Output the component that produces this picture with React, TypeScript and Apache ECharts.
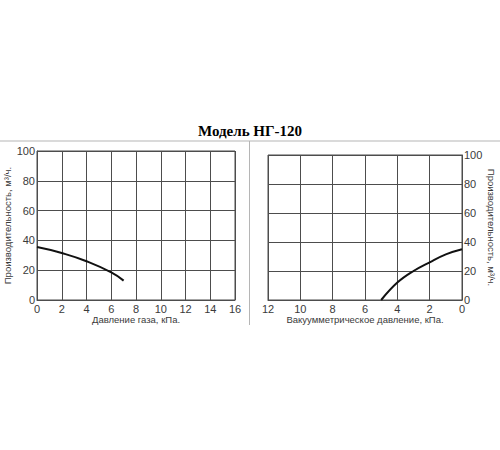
import React, { useEffect, useRef } from 'react';
import * as echarts from 'echarts';

const TITLE = 'Модель НГ-120';
const Y_NAME = 'Производительность, м³/ч.';
const LEFT_X_NAME = 'Давление газа, кПа.';
const RIGHT_X_NAME = 'Вакуумметрическое давление, кПа.';

// pressure (kPa) -> capacity (m3/h)
const gasPressure = [0, 2, 4, 6, 7];
const gasCapacity = [35.5, 31.5, 26, 18.5, 13];

const vacPressure = [0, 1, 2, 3, 4, 5];
const vacCapacity = [35, 31.5, 26, 20, 12, 0];

const GRID_COLOR = '#4d4d4d';
const TEXT_COLOR = '#3a3a3a';
const FONT = "'Liberation Sans', Arial, sans-serif";

function pairs(xs: number[], ys: number[]): number[][] {
  return xs.map((x, i) => [x, ys[i]]);
}

export default function App() {
  const elRef = useRef<HTMLDivElement | null>(null);

  useEffect(() => {
    if (!elRef.current) return;
    const chart = echarts.init(elRef.current, undefined, { renderer: 'svg' });

    const label = { color: TEXT_COLOR, fontSize: 11, fontFamily: FONT };
    const split = { show: true, lineStyle: { color: GRID_COLOR, width: 1 } };
    const line = { show: true, lineStyle: { color: GRID_COLOR, width: 1 } };
    const xNameStyle = { color: TEXT_COLOR, fontSize: 9.5, fontFamily: FONT };
    const yNameStyle = { color: TEXT_COLOR, fontSize: 9.5, fontFamily: FONT };

    chart.setOption({
      animation: false,
      backgroundColor: '#ffffff',
      graphic: [
        {
          type: 'text',
          left: 'center',
          top: 123,
          style: {
            text: TITLE,
            fontFamily: "'Liberation Serif', 'Times New Roman', serif",
            fontWeight: 'bold',
            fontSize: 15,
            fill: '#000',
          },
        },
        {
          type: 'line',
          shape: { x1: 0, y1: 141, x2: 500, y2: 141 },
          style: { stroke: '#b5b5b5', lineWidth: 1 },
        },
        {
          type: 'line',
          shape: { x1: 249.5, y1: 141, x2: 249.5, y2: 325 },
          style: { stroke: '#b5b5b5', lineWidth: 1 },
        },
      ],
      grid: [
        { left: 37, top: 151, width: 198, height: 149, show: true, borderColor: GRID_COLOR, borderWidth: 1 },
        { left: 268, top: 155, width: 194, height: 145, show: true, borderColor: GRID_COLOR, borderWidth: 1 },
      ],
      xAxis: [
        {
          type: 'value',
          gridIndex: 0,
          min: 0,
          max: 16,
          interval: 2,
          axisLine: line,
          axisTick: { show: false },
          splitLine: split,
          axisLabel: { ...label, margin: 3 },
          name: LEFT_X_NAME,
          nameLocation: 'middle',
          nameGap: 12,
          nameTextStyle: xNameStyle,
        },
        {
          type: 'value',
          gridIndex: 1,
          min: 0,
          max: 12,
          interval: 2,
          inverse: true,
          axisLine: line,
          axisTick: { show: false },
          splitLine: split,
          axisLabel: { ...label, margin: 3 },
          name: RIGHT_X_NAME,
          nameLocation: 'middle',
          nameGap: 12,
          nameTextStyle: xNameStyle,
        },
      ],
      yAxis: [
        {
          type: 'value',
          gridIndex: 0,
          min: 0,
          max: 100,
          interval: 20,
          axisLine: line,
          axisTick: { show: false },
          splitLine: split,
          axisLabel: { ...label, margin: 2 },
          name: Y_NAME,
          nameLocation: 'middle',
          nameGap: 21,
          nameRotate: 90,
          nameTextStyle: yNameStyle,
        },
        {
          type: 'value',
          gridIndex: 1,
          position: 'right',
          min: 0,
          max: 100,
          interval: 20,
          axisLine: line,
          axisTick: { show: false },
          splitLine: split,
          axisLabel: { ...label, margin: 2 },
          name: Y_NAME,
          nameLocation: 'middle',
          nameGap: 22,
          nameRotate: -90,
          nameTextStyle: yNameStyle,
        },
      ],
      series: [
        {
          type: 'line',
          xAxisIndex: 0,
          yAxisIndex: 0,
          data: pairs(gasPressure, gasCapacity),
          smooth: true,
          showSymbol: false,
          lineStyle: { color: '#111', width: 2 },
        },
        {
          type: 'line',
          xAxisIndex: 1,
          yAxisIndex: 1,
          data: pairs(vacPressure, vacCapacity),
          smooth: 0.4,
          showSymbol: false,
          lineStyle: { color: '#111', width: 2 },
        },
      ],
    });

    return () => chart.dispose();
  }, []);

  return (
    <div
      ref={elRef}
      style={{ position: 'absolute', left: 0, top: 0, width: 500, height: 450 }}
    />
  );
}
